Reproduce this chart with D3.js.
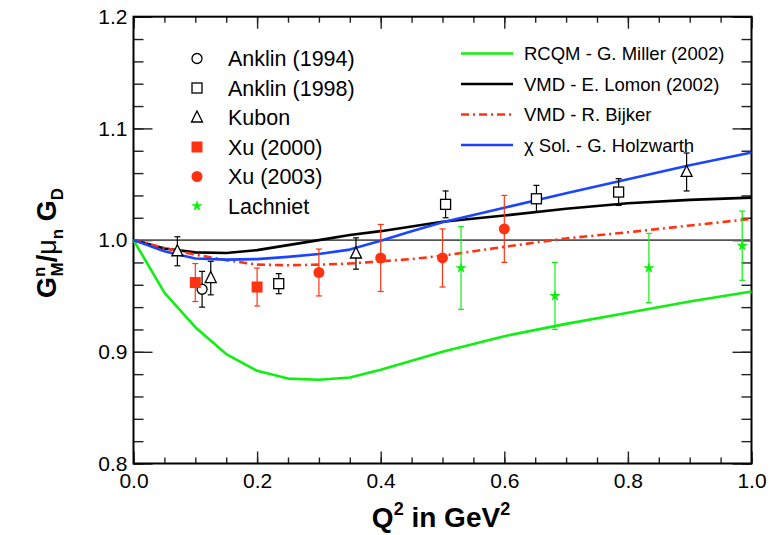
<!DOCTYPE html>
<html>
<head>
<meta charset="utf-8">
<script src="https://cdn.jsdelivr.net/npm/d3@7"></script>
<style>
  body { margin: 0; background: #fff; }
  svg { display: block; }
  text { font-family: "Liberation Sans", Arial, Helvetica, sans-serif; }
</style>
</head>
<body>
<svg id="chart" width="778" height="535"></svg>
<script>
// data points: [Q^2, ratio, error]
const anklin1994 = [[0.111, 0.956, 0.016]];
const anklin1998 = [[0.235, 0.961, 0.009], [0.505, 1.032, 0.012], [0.652, 1.037, 0.012], [0.785, 1.043, 0.012]];
const kubon = [[0.071, 0.990, 0.013], [0.125, 0.966, 0.015], [0.360, 0.988, 0.014], [0.895, 1.061, 0.017]];
const xu2000 = [[0.100, 0.962, 0.017], [0.200, 0.958, 0.017]];
const xu2003 = [[0.300, 0.971, 0.021], [0.400, 0.984, 0.030], [0.500, 0.984, 0.026], [0.600, 1.010, 0.030]];
const lachniet = [[0.530, 0.975, 0.037], [0.682, 0.950, 0.030], [0.834, 0.975, 0.031], [0.985, 0.995, 0.031]];

// model curves: [Q^2, ratio]
const millerCurve = [[0, 1.0], [0.05, 0.953], [0.1, 0.922], [0.15, 0.898], [0.2, 0.883], [0.25, 0.876], [0.3, 0.875],
  [0.35, 0.877], [0.4, 0.884], [0.45, 0.892], [0.5, 0.900], [0.55, 0.907], [0.6, 0.914], [0.7, 0.925],
  [0.8, 0.935], [0.9, 0.945], [1.0, 0.954]];
const lomonCurve = [[0, 1.0], [0.05, 0.9925], [0.1, 0.989], [0.15, 0.9885], [0.2, 0.991], [0.25, 0.9955], [0.3, 1.0],
  [0.35, 1.0045], [0.4, 1.008], [0.5, 1.0165], [0.6, 1.022], [0.7, 1.028], [0.8, 1.033], [0.9, 1.036], [1.0, 1.038]];
const bijkerCurve = [[0, 1.0], [0.05, 0.993], [0.1, 0.987], [0.15, 0.982], [0.2, 0.978], [0.25, 0.9775], [0.3, 0.978],
  [0.35, 0.979], [0.4, 0.981], [0.45, 0.983], [0.5, 0.986], [0.6, 0.994], [0.7, 1.0015], [0.8, 1.007],
  [0.9, 1.013], [1.0, 1.019]];
const holzwarthCurve = [[0, 1.0], [0.05, 0.990], [0.1, 0.9835], [0.15, 0.9825], [0.2, 0.983], [0.25, 0.985], [0.3, 0.9875],
  [0.35, 0.9915], [0.4, 0.9995], [0.45, 1.008], [0.5, 1.016], [0.6, 1.029], [0.7, 1.042], [0.8, 1.0545],
  [0.9, 1.067], [1.0, 1.0785]];

const xTicks = [0, 0.2, 0.4, 0.6, 0.8, 1.0];
const yTicks = [0.8, 0.9, 1.0, 1.1, 1.2];
const pointLabels = ["Anklin (1994)", "Anklin (1998)", "Kubon", "Xu (2000)", "Xu (2003)", "Lachniet"];
const curveLabels = ["RCQM - G. Miller (2002)", "VMD - E. Lomon (2002)", "VMD - R. Bijker", "\u03c7 Sol. - G. Holzwarth"];

const RED = "#ff3311", GREEN = "#11ee11", BLUE = "#1a45ff";

const svg = d3.select("#chart");
const plotLeft = 133.5, plotRight = 751.5, plotTop = 16.7, plotBottom = 463.5;

const x = d3.scaleLinear().domain([0, 1]).range([plotLeft, plotRight]);
const y = d3.scaleLinear().domain([0.8, 1.2]).range([plotBottom, plotTop]);

// minor ticks
const xMinor = d3.range(0, 1.0001, 0.05);
const yMinor = d3.range(0.8, 1.2001, 0.02);

// bottom axis
svg.append("g")
  .attr("transform", `translate(0,${plotBottom})`)
  .call(d3.axisBottom(x).tickValues(xMinor).tickSize(-6).tickFormat(""))
  .call(g => g.select(".domain").remove());
svg.append("g")
  .attr("transform", `translate(0,${plotBottom})`)
  .call(d3.axisBottom(x).tickValues(xTicks).tickSize(-12).tickPadding(8).tickFormat(d3.format(".1f")))
  .call(g => g.select(".domain").remove())
  .call(g => g.selectAll("text").attr("font-size", 21).attr("fill", "#000").attr("dy", "0.78em"));
// top axis
svg.append("g")
  .attr("transform", `translate(0,${plotTop})`)
  .call(d3.axisTop(x).tickValues(xMinor).tickSize(-6).tickFormat(""))
  .call(g => g.select(".domain").remove());
svg.append("g")
  .attr("transform", `translate(0,${plotTop})`)
  .call(d3.axisTop(x).tickValues(xTicks).tickSize(-12).tickFormat(""))
  .call(g => g.select(".domain").remove());
// left axis
svg.append("g")
  .attr("transform", `translate(${plotLeft},0)`)
  .call(d3.axisLeft(y).tickValues(yMinor).tickSize(-10).tickFormat(""))
  .call(g => g.select(".domain").remove());
svg.append("g")
  .attr("transform", `translate(${plotLeft},0)`)
  .call(d3.axisLeft(y).tickValues(yTicks).tickSize(-19).tickPadding(6).tickFormat(d3.format(".1f")))
  .call(g => g.select(".domain").remove())
  .call(g => g.selectAll("text").attr("font-size", 21).attr("fill", "#000"));
// right axis
svg.append("g")
  .attr("transform", `translate(${plotRight},0)`)
  .call(d3.axisRight(y).tickValues(yMinor).tickSize(-10).tickFormat(""))
  .call(g => g.select(".domain").remove());
svg.append("g")
  .attr("transform", `translate(${plotRight},0)`)
  .call(d3.axisRight(y).tickValues(yTicks).tickSize(-19).tickFormat(""))
  .call(g => g.select(".domain").remove());

svg.selectAll(".tick line").attr("stroke", "#222").attr("stroke-width", 1.4);

// frame
svg.append("rect")
  .attr("x", plotLeft).attr("y", plotTop)
  .attr("width", plotRight - plotLeft).attr("height", plotBottom - plotTop)
  .attr("fill", "none").attr("stroke", "#000").attr("stroke-width", 2);

// reference line at 1
svg.append("line")
  .attr("x1", x(0)).attr("x2", x(1)).attr("y1", y(1)).attr("y2", y(1))
  .attr("stroke", "#555").attr("stroke-width", 1.6);

// curves
const line = d3.line().x(d => x(d[0])).y(d => y(d[1]));
const curves = [
  { data: millerCurve, color: GREEN, dash: null },
  { data: lomonCurve, color: "#000", dash: null },
  { data: bijkerCurve, color: RED, dash: "8,4,2,4" },
  { data: holzwarthCurve, color: BLUE, dash: null }
];
curves.forEach(c => {
  svg.append("path")
    .datum(c.data)
    .attr("d", line)
    .attr("fill", "none")
    .attr("stroke", c.color)
    .attr("stroke-width", 2.6)
    .attr("stroke-linejoin", "round")
    .attr("stroke-dasharray", c.dash);
});

// marker drawing
function drawMarker(g, kind, cx, cy) {
  if (kind === "circle") {
    g.append("circle").attr("cx", cx).attr("cy", cy).attr("r", 5)
      .attr("fill", "#fff").attr("stroke", "#000").attr("stroke-width", 1.3);
  } else if (kind === "square") {
    g.append("rect").attr("x", cx - 5).attr("y", cy - 5).attr("width", 10).attr("height", 10)
      .attr("fill", "#fff").attr("stroke", "#000").attr("stroke-width", 1.3);
  } else if (kind === "triangle") {
    g.append("path").attr("d", `M${cx},${cy - 6.5}L${cx + 5.5},${cy + 4.5}L${cx - 5.5},${cy + 4.5}Z`)
      .attr("fill", "#fff").attr("stroke", "#000").attr("stroke-width", 1.3);
  } else if (kind === "redsquare") {
    g.append("rect").attr("x", cx - 5.5).attr("y", cy - 5.5).attr("width", 11).attr("height", 11)
      .attr("fill", RED);
  } else if (kind === "redcircle") {
    g.append("circle").attr("cx", cx).attr("cy", cy).attr("r", 5.5).attr("fill", RED);
  } else if (kind === "star") {
    g.append("path").attr("d", d3.symbol(d3.symbolStar, 40)())
      .attr("transform", `translate(${cx},${cy})`).attr("fill", GREEN);
  }
}

const sets = [
  { data: anklin1994, kind: "circle", color: "#000" },
  { data: anklin1998, kind: "square", color: "#000" },
  { data: kubon, kind: "triangle", color: "#000" },
  { data: xu2000, kind: "redsquare", color: RED },
  { data: xu2003, kind: "redcircle", color: RED },
  { data: lachniet, kind: "star", color: GREEN }
];

const pts = svg.append("g");
sets.forEach(s => {
  s.data.forEach(d => {
    const cx = x(d[0]);
    const y0 = y(d[1] - d[2]), y1 = y(d[1] + d[2]);
    pts.append("line").attr("x1", cx).attr("x2", cx).attr("y1", y0).attr("y2", y1)
      .attr("stroke", s.color).attr("stroke-width", 1.2);
    [y0, y1].forEach(yy => {
      pts.append("line").attr("x1", cx - 3).attr("x2", cx + 3).attr("y1", yy).attr("y2", yy)
        .attr("stroke", s.color).attr("stroke-width", 1.2);
    });
  });
});
sets.forEach(s => {
  s.data.forEach(d => drawMarker(pts, s.kind, x(d[0]), y(d[1])));
});

// left legend
const leg1 = svg.append("g");
sets.forEach((s, i) => {
  const ly = 58.5 + i * 29.5;
  drawMarker(leg1, s.kind, 197, ly);
  leg1.append("text").attr("x", 228).attr("y", ly + 7.5)
    .attr("font-size", 21.5).text(pointLabels[i]);
});

// right legend
const leg2 = svg.append("g");
curves.forEach((c, i) => {
  const ly = 53.5 + i * 30.5;
  leg2.append("line").attr("x1", 461).attr("x2", 513).attr("y1", ly).attr("y2", ly)
    .attr("stroke", c.color).attr("stroke-width", 2.6).attr("stroke-dasharray", c.dash);
  leg2.append("text").attr("x", 524).attr("y", ly + 6.5)
    .attr("font-size", 18.5).text(curveLabels[i]);
});

// x title
const xt = svg.append("text")
  .attr("x", 441).attr("y", 527)
  .attr("text-anchor", "middle")
  .attr("font-size", 28).attr("font-weight", "bold");
xt.append("tspan").text("Q");
xt.append("tspan").attr("font-size", 18).attr("dy", -12).text("2");
xt.append("tspan").attr("dy", 12).text(" in GeV");
xt.append("tspan").attr("font-size", 18).attr("dy", -12).text("2");

// y title
const yt = svg.append("text")
  .attr("transform", "translate(56,243) rotate(-90)")
  .attr("text-anchor", "middle")
  .attr("font-size", 27).attr("font-weight", "bold");
yt.append("tspan").text("G");
yt.append("tspan").attr("font-size", 17).attr("dy", -11).text("n");
yt.append("tspan").attr("font-size", 17).attr("dx", -10).attr("dy", 18).text("M");
yt.append("tspan").attr("dy", -7).text("/");
yt.append("tspan").attr("font-weight", "normal").text("\u03bc");
yt.append("tspan").attr("font-size", 17).attr("dy", 7).text("n");
yt.append("tspan").attr("dy", -7).text(" G");
yt.append("tspan").attr("font-size", 17).attr("dy", 7).text("D");
</script>
</body>
</html>
